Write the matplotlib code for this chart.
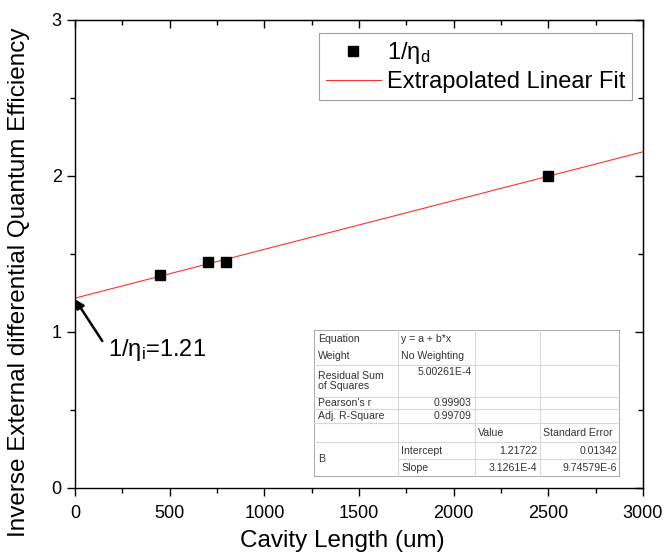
import numpy as np
import matplotlib.pyplot as plt
from matplotlib.ticker import MultipleLocator

plt.rcParams['font.family'] = ['Liberation Sans', 'DejaVu Sans']
plt.rcParams['mathtext.fontset'] = 'custom'
plt.rcParams['mathtext.rm'] = 'Liberation Sans'
plt.rcParams['mathtext.it'] = 'Liberation Sans'

# measured points
cavity_len = [450, 700, 800, 2500]
inv_eta_d = [1.365, 1.449, 1.449, 2.0]

# fit results (from the inset table)
intercept = 1.21722
slope = 3.1261e-4
fit_x = [0, 3000]

# inset table text
tbl_col0 = ['Equation', 'Weight', 'Residual Sum\nof Squares', "Pearson's r", 'Adj. R-Square', '', 'B']
tbl_col1 = ['y = a + b*x', 'No Weighting', '5.00261E-4', '0.99903', '0.99709']
tbl_params = ['Intercept', 'Slope']
tbl_values = ['1.21722', '3.1261E-4']
tbl_errors = ['0.01342', '9.74579E-6']

W, H = 667, 560
fig = plt.figure(figsize=(W / 100, H / 100), dpi=100)
ax = fig.add_axes([75 / W, 1 - 488 / H, 568 / W, 468 / H])

ax.plot(cavity_len, inv_eta_d, 's', color='black', markersize=7.5, label=r'1/η$_\mathrm{d}$', zorder=3)
fit_y = [intercept + slope * x for x in fit_x]
ax.plot(fit_x, fit_y, '-', color='#ff3030', lw=0.8, label='Extrapolated Linear Fit', zorder=2)

ax.set_xlim(0, 3000)
ax.set_ylim(0, 3)
ax.xaxis.set_major_locator(MultipleLocator(500))
ax.xaxis.set_minor_locator(MultipleLocator(250))
ax.yaxis.set_major_locator(MultipleLocator(1))
ax.yaxis.set_minor_locator(MultipleLocator(0.5))
ax.tick_params(which='major', direction='out', length=6, width=1, labelsize=13, colors='black')
ax.tick_params(axis='x', which='major', pad=6)
ax.tick_params(which='minor', direction='out', length=3.5, width=1)
for s in ax.spines.values():
  s.set_linewidth(1)

# inward ticks on top and right, no labels
top = ax.secondary_xaxis('top')
top.xaxis.set_major_locator(MultipleLocator(500))
top.xaxis.set_minor_locator(MultipleLocator(250))
top.tick_params(which='major', direction='in', length=6, width=1, labeltop=False)
top.tick_params(which='minor', direction='in', length=3.5, width=1)
right = ax.secondary_yaxis('right')
right.yaxis.set_major_locator(MultipleLocator(1))
right.yaxis.set_minor_locator(MultipleLocator(0.5))
right.tick_params(which='major', direction='in', length=6, width=1, labelright=False)
right.tick_params(which='minor', direction='in', length=3.5, width=1)

ax.set_xlabel('Cavity Length (um)', fontsize=17.5, va='center', ha='center')
ax.xaxis.set_label_coords((342 - 75) / 568, -(541 - 488) / 468)
ax.set_ylabel('Inverse External differential Quantum Efficiency', fontsize=17.5,
              va='center', ha='center')
ax.yaxis.set_label_coords(-(75 - 19) / 568, (488 - 282) / 468)

ax.annotate(r'1/η$_\mathrm{i}$=1.21', xy=(0, 1.21), xytext=(175, 0.885),
            fontsize=17, va='center', ha='left',
            arrowprops=dict(arrowstyle='-|>', color='black', lw=1.8,
                            mutation_scale=13, shrinkA=4, shrinkB=0, relpos=(0, 0.5)))

leg = ax.legend(loc='upper right', bbox_to_anchor=((632 - 75) / 568, (488 - 33) / 468),
                borderaxespad=0, fontsize=17, frameon=True, fancybox=False,
                edgecolor='#888888', handlelength=2.3, borderpad=0.3, labelspacing=0.2,
                handletextpad=0.25)
leg.get_frame().set_linewidth(0.8)

# inset results table, drawn in pixel coordinates
tx0, tx1, ty0, ty1 = 314, 620, 330, 477
tab = fig.add_axes([tx0 / W, 1 - ty1 / H, (tx1 - tx0) / W, (ty1 - ty0) / H])
tab.set_xlim(tx0, tx1)
tab.set_ylim(ty1, ty0)
tab.axis('off')
tab.add_patch(plt.Rectangle((tx0, ty0), tx1 - tx0, ty1 - ty0, facecolor='white',
                            edgecolor='#999999', lw=1.2))
cols = [314, 398, 475, 540, 620]
rows = [330, 347, 365, 397, 409, 423, 442, 459, 477]
grid = '#d8d8d8'
for c in cols[1:-1]:
  tab.plot([c, c], [ty0, ty1], color=grid, lw=0.8)
for r in rows[2:-1]:
  x_start = cols[1] if r == 459 else tx0
  tab.plot([x_start, tx1], [r, r], color=grid, lw=0.8)

fs = 7.6
tc = '#333333'
col0_y = [(rows[0] + rows[1]) / 2, (rows[1] + rows[2]) / 2, (rows[2] + rows[3]) / 2,
          (rows[3] + rows[4]) / 2, (rows[4] + rows[5]) / 2, (rows[5] + rows[6]) / 2,
          (rows[6] + rows[8]) / 2]
for lab, y in zip(tbl_col0, col0_y):
  tab.text(tx0 + 4, y, lab, fontsize=fs, va='center', ha='left', color=tc, linespacing=1.05)
for i, lab in enumerate(tbl_col1):
  if i < 2:
    tab.text(cols[1] + 3, col0_y[i], lab, fontsize=fs, va='center', ha='left', color=tc)
  else:
    y = rows[2] + 7 if i == 2 else col0_y[i]
    tab.text(cols[2] - 3, y, lab, fontsize=fs, va='center', ha='right', color=tc)
tab.text(cols[2] + 3, col0_y[5], 'Value', fontsize=fs, va='center', ha='left', color=tc)
tab.text(cols[3] + 3, col0_y[5], 'Standard Error', fontsize=fs, va='center', ha='left', color=tc)
for i in range(2):
  y = (rows[6 + i] + rows[7 + i]) / 2
  tab.text(cols[1] + 3, y, tbl_params[i], fontsize=fs, va='center', ha='left', color=tc)
  tab.text(cols[3] - 3, y, tbl_values[i], fontsize=fs, va='center', ha='right', color=tc)
  tab.text(cols[4] - 3, y, tbl_errors[i], fontsize=fs, va='center', ha='right', color=tc)

fig.savefig('out.png', dpi=100)
